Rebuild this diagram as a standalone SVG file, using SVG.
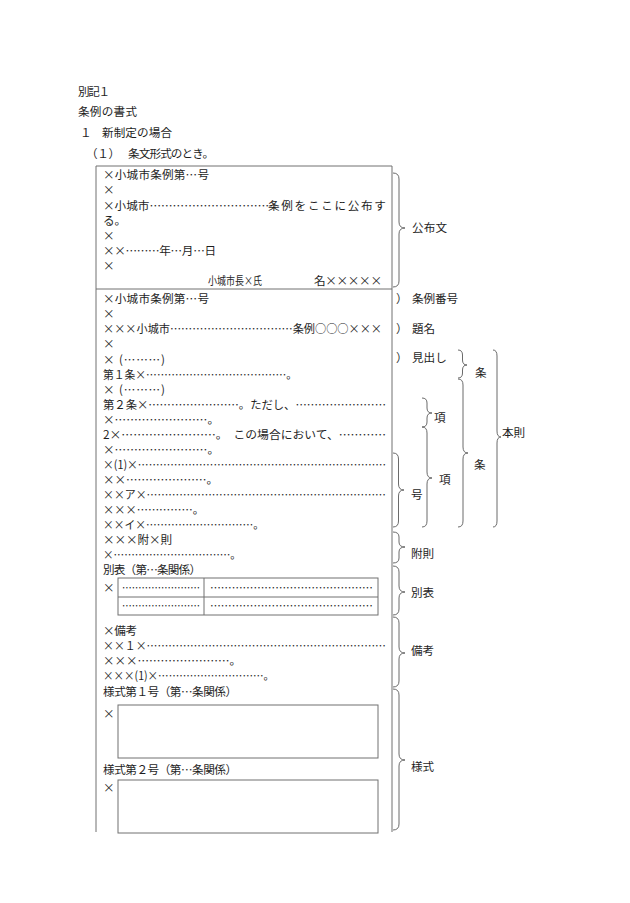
<svg xmlns="http://www.w3.org/2000/svg" width="630" height="903" viewBox="0 0 630 903">
<style>
.t{font-family:"Noto Sans CJK JP","Noto Sans CJK SC",sans-serif;font-size:11.6px;fill:#1e1e1e}
.ln{stroke:#707070;stroke-width:1;fill:none}
.br{stroke:#5a5a5a;stroke-width:0.9;fill:none}
</style>
<rect width="630" height="903" fill="#fff"/>
<g id="heading">
<text class="t" x="78" y="96.3" textLength="32">別記１</text>
<text class="t" x="78" y="116.3" textLength="59">条例の書式</text>
<text class="t" x="80" y="137.3">１</text>
<text class="t" x="102" y="137.3" textLength="70">新制定の場合</text>
<text class="t" x="86" y="157.8" textLength="34">（１）</text>
<text class="t" x="128" y="157.8" textLength="86">条文形式のとき。</text>
</g>
<g id="frame">
<path class="ln" d="M96,832 V166 H392 V832"/>
<line class="ln" x1="96" y1="289" x2="392" y2="289"/>
</g>
<g id="koufubun">
<text class="t" x="103" y="179.3" textLength="106">×小城市条例第…号</text>
<text class="t" x="103" y="194.4">×</text>
<text class="t" x="103" y="209.5">×小城市……………………………<tspan x="268" letter-spacing="1.7">条例をここに公布す</tspan></text>
<text class="t" x="103" y="224.6">る。</text>
<text class="t" x="103" y="239.7">×</text>
<text class="t" x="103" y="254.8" textLength="113">××………年…月…日</text>
<text class="t" x="103" y="269.9">×</text>
<text class="t" x="208" y="285" textLength="54" lengthAdjust="spacingAndGlyphs">小城市長×氏</text>
<text class="t" x="314" y="285" textLength="68">名×××××</text>
</g>
<g id="jorei-bango">
<text class="t" x="103" y="303.3" textLength="106">×小城市条例第…号</text>
<text class="t" x="103" y="318.3">×</text>
</g>
<g id="daimei">
<text class="t" x="103" y="333.4" textLength="279" lengthAdjust="spacingAndGlyphs">×××小城市……………………………条例○○○×××</text>
<text class="t" x="103" y="348.4">×</text>
</g>
<g id="honsoku">
<text class="t" x="103" y="363.5" textLength="62">× (………)</text>
<text class="t" x="103" y="378.5" textLength="194" lengthAdjust="spacingAndGlyphs">第１条×…………………………………。</text>
<text class="t" x="103" y="393.6" textLength="62">× (………)</text>
<text class="t" x="103" y="408.6" textLength="283" lengthAdjust="spacingAndGlyphs">第２条×……………………。ただし、……………………</text>
<text class="t" x="103" y="423.7" textLength="116" lengthAdjust="spacingAndGlyphs">×……………………。</text>
<text class="t" x="103" y="438.7" textLength="283" lengthAdjust="spacingAndGlyphs">2×……………………。　この場合において、…………</text>
<text class="t" x="103" y="453.8" textLength="116" lengthAdjust="spacingAndGlyphs">×……………………。</text>
<text class="t" x="103" y="468.8" textLength="283" lengthAdjust="spacingAndGlyphs">×(1)×……………………………………………………………</text>
<text class="t" x="103" y="483.9" textLength="115" lengthAdjust="spacingAndGlyphs">××…………………。</text>
<text class="t" x="103" y="499" textLength="283" lengthAdjust="spacingAndGlyphs">××ア×…………………………………………………………</text>
<text class="t" x="103" y="514" textLength="101" lengthAdjust="spacingAndGlyphs">×××……………。</text>
<text class="t" x="103" y="529.1" textLength="161" lengthAdjust="spacingAndGlyphs">××イ×…………………………。</text>
</g>
<g id="fusoku">
<text class="t" x="103" y="544.1" textLength="69">×××附×則</text>
<text class="t" x="103" y="559.2" textLength="138" lengthAdjust="spacingAndGlyphs">×……………………………。</text>
</g>
<g id="beppyo">
<text class="t" x="103" y="574.3" textLength="98">別表（第…条関係）</text>
<text class="t" x="103" y="591.5">×</text>
<rect class="ln" x="118" y="578" width="260" height="37"/>
<line class="ln" x1="118" y1="597" x2="378" y2="597"/>
<line class="ln" x1="204" y1="578" x2="204" y2="615"/>
<text class="t" x="122" y="591.5" textLength="78" lengthAdjust="spacingAndGlyphs">……………………</text>
<text class="t" x="210" y="591.5" textLength="163" lengthAdjust="spacingAndGlyphs">………………………………………</text>
<text class="t" x="122" y="610.3" textLength="78" lengthAdjust="spacingAndGlyphs">……………………</text>
<text class="t" x="210" y="610.3" textLength="163" lengthAdjust="spacingAndGlyphs">………………………………………</text>
</g>
<g id="biko">
<text class="t" x="103" y="634.5" textLength="34">×備考</text>
<text class="t" x="103" y="649.8" textLength="283" lengthAdjust="spacingAndGlyphs">××１×…………………………………………………………</text>
<text class="t" x="103" y="665" textLength="138" lengthAdjust="spacingAndGlyphs">×××……………………。</text>
<text class="t" x="103" y="680.3" textLength="171" lengthAdjust="spacingAndGlyphs">×××(1)×…………………………。</text>
</g>
<g id="yoshiki">
<text class="t" x="103" y="695.6" textLength="134">様式第１号（第…条関係）</text>
<text class="t" x="103" y="718.3">×</text>
<rect class="ln" x="118" y="705" width="260" height="53"/>
<text class="t" x="103" y="774.3" textLength="134">様式第２号（第…条関係）</text>
<text class="t" x="103" y="792.3">×</text>
<rect class="ln" x="118" y="780" width="260" height="53"/>
</g>
<g id="connectors">
<path class="br" d="M393,173 Q399,173 399,179 V222 Q399,228 405,228 Q399,228 399,234 V281 Q399,287 393,287"/>
<path class="br" d="M458,350 Q462.5,350 462.5,355 V360 Q462.5,365 467,365 Q462.5,365 462.5,370 V373 Q462.5,378 458,378"/>
<path class="br" d="M458,379 Q463,379 463,385 V447 Q463,453 468,453 Q463,453 463,459 V521 Q463,527 458,527"/>
<path class="br" d="M493,350 Q497,350 497,356 V431 Q497,437 501,437 Q497,437 497,443 V521 Q497,527 493,527"/>
<path class="br" d="M422,398 Q427,398 427,403 V408 Q427,413 432,413 Q427,413 427,418 V422 Q427,427 422,427"/>
<path class="br" d="M422,427 Q427,427 427,433 V472 Q427,478 432,478 Q427,478 427,484 V521 Q427,527 422,527"/>
<path class="br" d="M393,453 Q398.5,453 398.5,459 V484 Q398.5,490 404,490 Q398.5,490 398.5,496 V521 Q398.5,527 393,527"/>
<path class="br" d="M393,532 Q399,532 399,537 V542 Q399,547 405,547 Q399,547 399,552 V558 Q399,563 393,563"/>
<path class="br" d="M393,566 Q399,566 399,572 V586 Q399,592 405,592 Q399,592 399,598 V609 Q399,615 393,615"/>
<path class="br" d="M393,617 Q399,617 399,623 V647 Q399,653 405,653 Q399,653 399,659 V681 Q399,687 393,687"/>
<path class="br" d="M393,689 Q399,689 399,695 V754 Q399,760 405,760 Q399,760 399,766 V824 Q399,830 393,830"/>
</g>
<g id="label-koufubun"><text class="t" x="412" y="232.3" textLength="35">公布文</text></g>
<g id="label-bango"><text class="t" x="396" y="302.6">）</text><text class="t" x="412" y="302.6" textLength="46">条例番号</text></g>
<g id="label-daimei"><text class="t" x="396" y="332.6">）</text><text class="t" x="412" y="332.6">題名</text></g>
<g id="label-midashi"><text class="t" x="396" y="361.6">）</text><text class="t" x="412" y="361.6">見出し</text></g>
<g id="label-jo1"><text class="t" x="475" y="377.3">条</text></g>
<g id="label-jo2"><text class="t" x="474" y="469.3">条</text></g>
<g id="label-honsoku"><text class="t" x="502" y="437.3">本則</text></g>
<g id="label-ko1"><text class="t" x="434" y="422.3">項</text></g>
<g id="label-ko2"><text class="t" x="439" y="484.3">項</text></g>
<g id="label-go"><text class="t" x="411" y="499.3">号</text></g>
<g id="label-fusoku"><text class="t" x="411" y="558.3">附則</text></g>
<g id="label-beppyo"><text class="t" x="411" y="597.3">別表</text></g>
<g id="label-biko"><text class="t" x="411" y="655.3">備考</text></g>
<g id="label-yoshiki"><text class="t" x="411" y="771.3">様式</text></g>
</svg>
